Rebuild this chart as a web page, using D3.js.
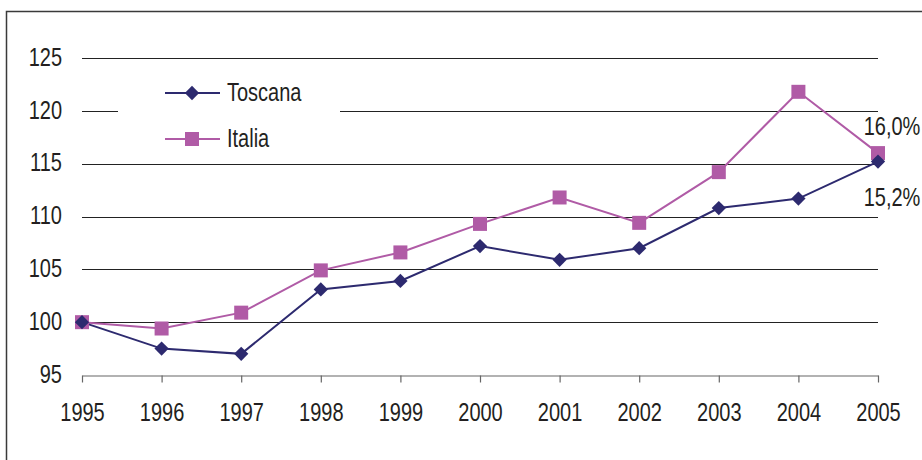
<!DOCTYPE html>
<html>
<head>
<meta charset="utf-8">
<script src="https://cdn.jsdelivr.net/npm/d3@7"></script>
<style>
  html, body { margin: 0; padding: 0; background: #fff; }
  svg { display: block; }
  text { font-family: "Liberation Sans Narrow", "Arial Narrow", "Liberation Sans", Arial, sans-serif; fill: #231f20; }
</style>
</head>
<body>
<svg id="chart" width="922" height="460"></svg>
<script>
// Index numbers, 1995 = 100
const years = [1995, 1996, 1997, 1998, 1999, 2000, 2001, 2002, 2003, 2004, 2005];
const toscana = [100, 97.5, 97.0, 103.1, 103.9, 107.2, 105.9, 107.0, 110.8, 111.7, 115.2];
const italia = [100, 99.4, 100.9, 104.9, 106.6, 109.3, 111.8, 109.4, 114.2, 121.8, 116.0];
const yTicks = [95, 100, 105, 110, 115, 120, 125];
const seriesNames = ["Toscana", "Italia"];
const endLabels = ["15,2%", "16,0%"];

const colors = { Toscana: "#2d2a6f", Italia: "#b05ba6" };

const svg = d3.select("#chart");
const W = 922, H = 460;
const FS = 20, SY = 1.25;

// stretch a text element vertically about its own baseline position
const tall = yy => `translate(0,${yy}) scale(1,${SY}) translate(0,${-yy})`;

// outer frame (left and top edges visible)
svg.append("rect").attr("x", 6.5).attr("y", 11.5).attr("width", W + 10).attr("height", H + 10)
  .attr("fill", "none").attr("stroke", "#3a3a3a").attr("stroke-width", 1.5);

const x = d3.scalePoint().domain(years).range([82, 878]);
const y = d3.scaleLinear().domain([95, 125]).range([375, 58]);

// horizontal gridlines
svg.append("g").selectAll("line").data(yTicks.filter(t => t > 95)).join("line")
  .attr("x1", 82).attr("x2", 878)
  .attr("y1", d => Math.round(y(d)) + 0.5).attr("y2", d => Math.round(y(d)) + 0.5)
  .attr("stroke", "#222").attr("stroke-width", 1);

// y labels
svg.append("g").selectAll("text").data(yTicks).join("text")
  .attr("x", 62).attr("y", d => y(d) - 1)
  .attr("text-anchor", "end").attr("dy", "0.35em")
  .attr("font-size", FS)
  .attr("transform", d => tall(y(d) - 1))
  .text(d => d);

// x axis
const xAxis = svg.append("g").attr("transform", `translate(0,${Math.round(y(95)) + 0.5})`)
  .call(d3.axisBottom(x).tickSize(7).tickPadding(15).tickSizeOuter(0));
xAxis.select(".domain").attr("stroke", "#666").attr("stroke-width", 1.2);
xAxis.selectAll(".tick line").attr("stroke", "#666").attr("stroke-width", 1.2);
xAxis.selectAll(".tick text").attr("font-size", FS)
  .attr("font-family", "'Liberation Sans Narrow', 'Arial Narrow', sans-serif")
  .attr("fill", "#231f20")
  .attr("transform", `scale(1,${SY})`);

const line = d3.line().x((d, i) => x(years[i])).y(d => y(d));
const data = { Toscana: toscana, Italia: italia };

// legend (white box hides the gridline behind it)
svg.append("rect").attr("x", 118).attr("y", 72).attr("width", 222).attr("height", 82).attr("fill", "#fff");

// series lines
["Italia", "Toscana"].forEach(name => {
  svg.append("path").datum(data[name]).attr("d", line)
    .attr("fill", "none").attr("stroke", colors[name]).attr("stroke-width", 2);
});

const diamond = d3.symbol(d3.symbolDiamond2, 130)();

// markers
svg.append("g").selectAll("rect").data(italia).join("rect")
  .attr("x", (d, i) => x(years[i]) - 7).attr("y", d => y(d) - 7)
  .attr("width", 14).attr("height", 14).attr("fill", colors.Italia);
svg.append("g").selectAll("path").data(toscana).join("path")
  .attr("d", diamond)
  .attr("transform", (d, i) => `translate(${x(years[i])},${y(d)})`)
  .attr("fill", colors.Toscana);

// legend entries
const leg = svg.append("g");
seriesNames.forEach((name, k) => {
  const ly = 93 + k * 46;
  leg.append("line").attr("x1", 165).attr("x2", 220).attr("y1", ly).attr("y2", ly)
    .attr("stroke", colors[name]).attr("stroke-width", 2);
  if (name === "Toscana") {
    leg.append("path").attr("d", diamond)
      .attr("transform", `translate(192,${ly})`).attr("fill", colors[name]);
  } else {
    leg.append("rect").attr("x", 185).attr("y", ly - 7).attr("width", 14).attr("height", 14)
      .attr("fill", colors[name]);
  }
  leg.append("text").attr("x", 227).attr("y", ly - 1).attr("dy", "0.35em")
    .attr("font-size", FS)
    .attr("transform", tall(ly - 1))
    .text(name);
});

// growth labels at the end of each series
const last = years.length - 1;
[[italia[last], endLabels[1], -27], [toscana[last], endLabels[0], 36]].forEach(([v, txt, off]) => {
  const ty = y(v) + off;
  svg.append("text").attr("x", 892).attr("y", ty).attr("dy", "0.35em")
    .attr("text-anchor", "middle").attr("font-size", FS)
    .attr("transform", tall(ty))
    .text(txt);
});
</script>
</body>
</html>
